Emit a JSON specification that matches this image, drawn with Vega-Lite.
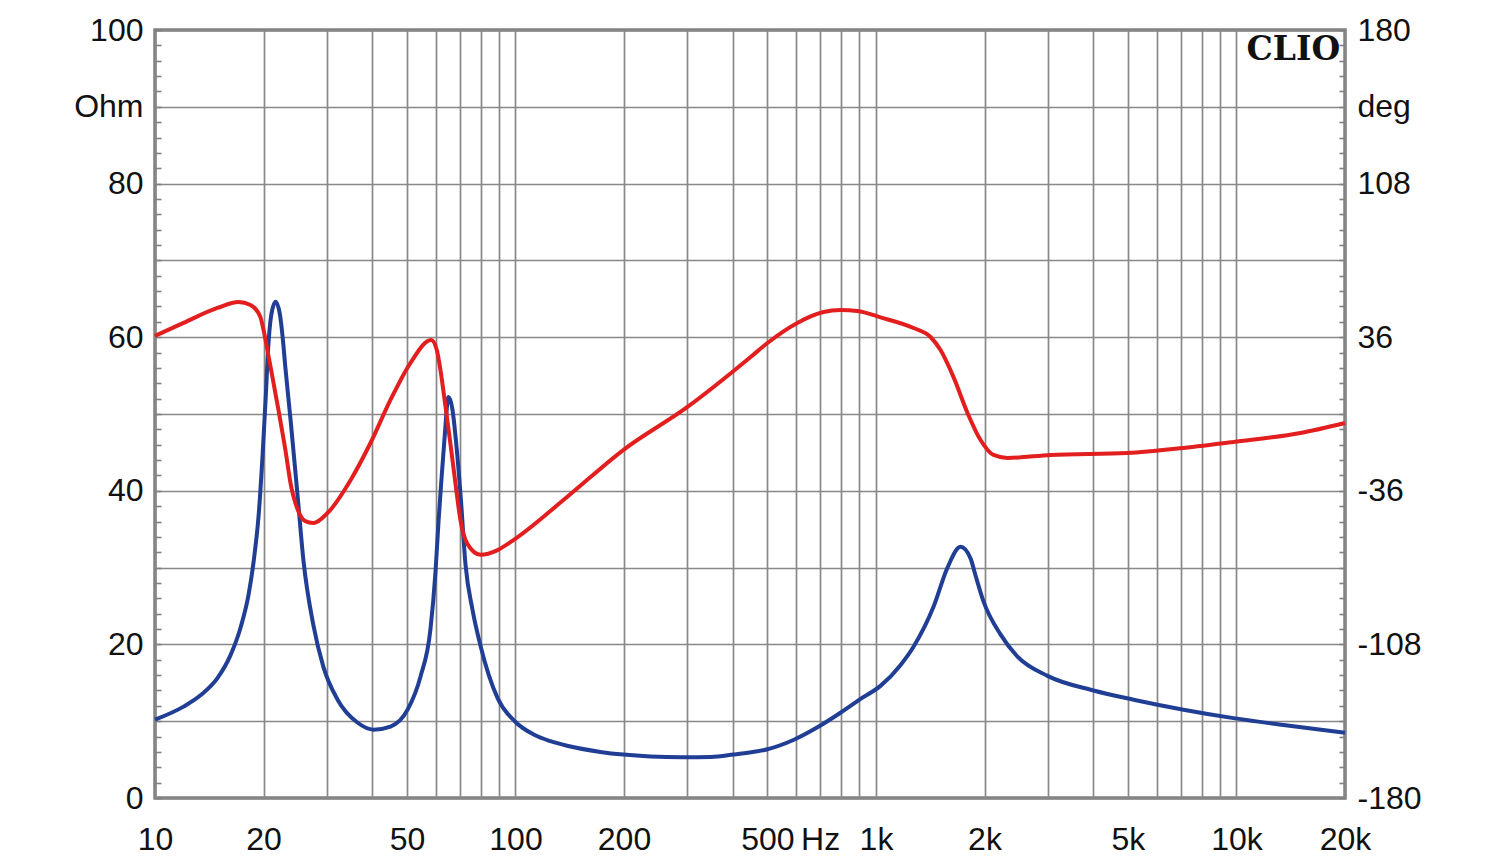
{
  "$schema": "https://vega.github.io/schema/vega-lite/v6.json",
  "width": 1190,
  "height": 768,
  "autosize": "none",
  "padding": {"left": 155, "top": 30, "right": 155, "bottom": 66},
  "background": "white",
  "config": {
    "view": {"stroke": "#808080", "strokeWidth": 3.5},
    "axis": {"labelFont": "Liberation Sans", "labelFontSize": 32, "labelColor": "#111111", "domain": false, "labelOverlap": false, "labelBound": false}
  },
  "datasets": {
    "impedance": [
      {"f": 10, "ohm": 10.2}, {"f": 12, "ohm": 11.9}, {"f": 13.4, "ohm": 13.4}, {"f": 14.9, "ohm": 15.6}, {"f": 16.2, "ohm": 18.6},
      {"f": 17.3, "ohm": 22.3}, {"f": 18.2, "ohm": 26.6}, {"f": 18.8, "ohm": 31.0}, {"f": 19.4, "ohm": 37.0},
      {"f": 19.9, "ohm": 45.0}, {"f": 20.3, "ohm": 52.5}, {"f": 20.6, "ohm": 58.5}, {"f": 21.0, "ohm": 62.8}, {"f": 21.6, "ohm": 64.6},
      {"f": 22.2, "ohm": 63.0}, {"f": 22.6, "ohm": 60.0}, {"f": 23.0, "ohm": 56.0}, {"f": 23.8, "ohm": 49.0}, {"f": 24.9, "ohm": 39.0},
      {"f": 25.8, "ohm": 31.0}, {"f": 27.5, "ohm": 22.5}, {"f": 29.3, "ohm": 17.1}, {"f": 32.1, "ohm": 12.8},
      {"f": 36.5, "ohm": 9.8}, {"f": 40.4, "ohm": 8.9}, {"f": 45.0, "ohm": 9.3}, {"f": 50.2, "ohm": 11.5},
      {"f": 54.5, "ohm": 15.8}, {"f": 58.1, "ohm": 22.0}, {"f": 60.0, "ohm": 29.5}, {"f": 61.2, "ohm": 36.2},
      {"f": 62.3, "ohm": 41.4}, {"f": 63.5, "ohm": 46.6}, {"f": 65.2, "ohm": 52.2}, {"f": 66.9, "ohm": 50.5},
      {"f": 68.2, "ohm": 47.0}, {"f": 70.4, "ohm": 39.5}, {"f": 72.7, "ohm": 30.3}, {"f": 76, "ohm": 24.5}, {"f": 80, "ohm": 19.8},
      {"f": 89.2, "ohm": 13.0}, {"f": 100, "ohm": 9.9}, {"f": 112, "ohm": 8.3}, {"f": 125, "ohm": 7.4},
      {"f": 139, "ohm": 6.8}, {"f": 172, "ohm": 6.0}, {"f": 199, "ohm": 5.65}, {"f": 237, "ohm": 5.4}, {"f": 290, "ohm": 5.3},
      {"f": 348, "ohm": 5.35}, {"f": 402, "ohm": 5.65}, {"f": 450, "ohm": 5.95}, {"f": 500, "ohm": 6.35}, {"f": 590, "ohm": 7.55},
      {"f": 688, "ohm": 9.2}, {"f": 797, "ohm": 11.1}, {"f": 906, "ohm": 12.9}, {"f": 1029, "ohm": 14.6},
      {"f": 1169, "ohm": 17.3}, {"f": 1271, "ohm": 19.7}, {"f": 1444, "ohm": 24.9}, {"f": 1579, "ohm": 30.0},
      {"f": 1716, "ohm": 32.7}, {"f": 1829, "ohm": 31.2}, {"f": 1888, "ohm": 29.0}, {"f": 1987, "ohm": 25.6}, {"f": 2215, "ohm": 21.3},
      {"f": 2469, "ohm": 18.4}, {"f": 2990, "ohm": 15.9}, {"f": 4012, "ohm": 14.0}, {"f": 5180, "ohm": 12.8},
      {"f": 7129, "ohm": 11.5}, {"f": 9810, "ohm": 10.4}, {"f": 13500, "ohm": 9.5}, {"f": 20000, "ohm": 8.5}
    ],
    "phase": [
      {"f": 10, "deg": 36.6}, {"f": 12, "deg": 42.7}, {"f": 14.9, "deg": 49.7}, {"f": 17.05, "deg": 52.5},
      {"f": 18.4, "deg": 51.1}, {"f": 19.6, "deg": 45.5}, {"f": 20.0, "deg": 39.4}, {"f": 20.5, "deg": 30.0},
      {"f": 21.0, "deg": 20.6}, {"f": 22.0, "deg": 1.9}, {"f": 23.0, "deg": -16.9}, {"f": 23.8, "deg": -33.0},
      {"f": 24.9, "deg": -45.0}, {"f": 26.1, "deg": -50.2}, {"f": 27.5, "deg": -51.1}, {"f": 30.1, "deg": -46.4},
      {"f": 34.9, "deg": -30.9}, {"f": 39.6, "deg": -13.6},
      {"f": 45, "deg": 6.6}, {"f": 51.1, "deg": 23.9}, {"f": 58.4, "deg": 34.7}, {"f": 60.5, "deg": 30},
      {"f": 62, "deg": 20}, {"f": 64, "deg": 3}, {"f": 66, "deg": -14}, {"f": 68.2, "deg": -33},
      {"f": 70.4, "deg": -50}, {"f": 73.6, "deg": -61}, {"f": 80, "deg": -66}, {"f": 89.2, "deg": -63.8},
      {"f": 98.7, "deg": -59.1}, {"f": 139, "deg": -38.9}, {"f": 199, "deg": -16.9}, {"f": 300, "deg": 3.3},
      {"f": 449, "deg": 26.7}, {"f": 500, "deg": 33.3}, {"f": 605, "deg": 42.7}, {"f": 715, "deg": 47.8},
      {"f": 797, "deg": 48.75}, {"f": 888, "deg": 48.3}, {"f": 1029, "deg": 45.3}, {"f": 1271, "deg": 40.3},
      {"f": 1417, "deg": 36.1}, {"f": 1510, "deg": 30}, {"f": 1641, "deg": 17.3}, {"f": 1794, "deg": 0.5},
      {"f": 1950, "deg": -12.2}, {"f": 2118, "deg": -19.2}, {"f": 2316, "deg": -20.6}, {"f": 3048, "deg": -19.2},
      {"f": 4985, "deg": -18.3}, {"f": 7129, "deg": -15.9}, {"f": 9810, "deg": -13.1}, {"f": 15050, "deg": -8.9},
      {"f": 20000, "deg": -4.2}
    ],
    "logo": [{"label": "CLIO", "f": 19400, "ohm": 96.1}]
  },
  "layer": [
    {
      "data": {"name": "impedance"},
      "mark": {"type": "line", "color": "#213e95", "strokeWidth": 4, "interpolate": "monotone"},
      "encoding": {
        "x": {
          "field": "f", "type": "quantitative", "title": null,
          "scale": {"type": "log", "domain": [10, 20000], "nice": false},
          "axis": {
            "title": null,
            "values": [10, 20, 30, 40, 50, 60, 70, 80, 90, 100, 200, 300, 400, 500, 600, 700, 800, 900, 1000, 2000, 3000, 4000, 5000, 6000, 7000, 8000, 9000, 10000, 20000],
            "labelExpr": "datum.value == 700 ? 'Hz' : datum.value == 1000 ? '1k' : datum.value == 2000 ? '2k' : datum.value == 5000 ? '5k' : datum.value == 10000 ? '10k' : datum.value == 20000 ? '20k' : indexof([10, 20, 50, 100, 200, 500], datum.value) >= 0 ? '' + datum.value : ''",
            "grid": true, "gridColor": "#888888", "gridWidth": 1.7,
            "ticks": false, "labelPadding": 26, "labelFlush": false, "labelBaseline": "top"
          }
        },
        "y": {
          "field": "ohm", "type": "quantitative", "title": null,
          "scale": {"domain": [0, 100], "nice": false, "zero": false},
          "axis": {
            "orient": "left", "title": null,
            "values": [0, 2, 4, 6, 8, 10, 12, 14, 16, 18, 20, 22, 24, 26, 28, 30, 32, 34, 36, 38, 40, 42, 44, 46, 48, 50, 52, 54, 56, 58, 60, 62, 64, 66, 68, 70, 72, 74, 76, 78, 80, 82, 84, 86, 88, 90, 92, 94, 96, 98, 100],
            "labelExpr": "datum.value == 90 ? 'Ohm' : datum.value % 20 == 0 ? '' + datum.value : ''",
            "grid": true, "gridColor": "#888888", "gridWidth": 1.7,
            "gridOpacity": {"condition": {"test": "datum.value % 10 == 0", "value": 1}, "value": 0},
            "ticks": true, "tickSize": -6, "tickColor": "#808080", "tickWidth": 1.6,
            "labelPadding": 18, "labelBaseline": "middle"
          }
        }
      }
    },
    {
      "data": {"name": "phase"},
      "mark": {"type": "line", "color": "#e21e1e", "strokeWidth": 4, "interpolate": "monotone"},
      "encoding": {
        "x": {"field": "f", "type": "quantitative", "title": null, "scale": {"type": "log", "domain": [10, 20000], "nice": false}},
        "y": {
          "field": "deg", "type": "quantitative", "title": null,
          "scale": {"domain": [-180, 180], "nice": false, "zero": false},
          "axis": {
            "orient": "right", "title": null,
            "values": [-180, -172.8, -165.6, -158.4, -151.2, -144, -136.8, -129.6, -122.4, -115.2, -108, -100.8, -93.6, -86.4, -79.2, -72, -64.8, -57.6, -50.4, -43.2, -36, -28.8, -21.6, -14.4, -7.2, 0, 7.2, 14.4, 21.6, 28.8, 36, 43.2, 50.4, 57.6, 64.8, 72, 79.2, 86.4, 93.6, 100.8, 108, 115.2, 122.4, 129.6, 136.8, 144, 151.2, 158.4, 165.6, 172.8, 180],
            "labelExpr": "datum.value == 144 ? 'deg' : indexof([-180, -108, -36, 36, 108, 180], datum.value) >= 0 ? '' + datum.value : ''",
            "grid": false,
            "ticks": true, "tickSize": -6, "tickColor": "#808080", "tickWidth": 1.6,
            "labelPadding": 18, "labelBaseline": "middle"
          }
        }
      }
    },
    {
      "data": {"name": "logo"},
      "mark": {"type": "text", "font": "DejaVu Serif", "fontWeight": "bold", "fontSize": 33, "align": "right", "baseline": "alphabetic", "color": "#111111"},
      "encoding": {
        "text": {"field": "label"},
        "x": {"field": "f", "type": "quantitative", "title": null, "scale": {"type": "log", "domain": [10, 20000], "nice": false}},
        "y": {"field": "ohm", "type": "quantitative", "title": null, "scale": {"domain": [0, 100], "nice": false, "zero": false}, "axis": null}
      }
    }
  ],
  "resolve": {"scale": {"y": "independent"}, "axis": {"y": "independent"}}
}
